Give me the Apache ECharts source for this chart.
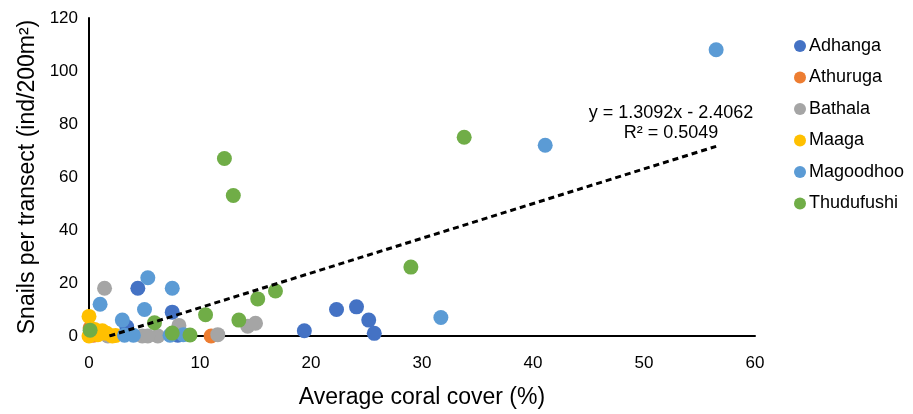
<!DOCTYPE html>
<html><head><meta charset="utf-8">
<script src="https://cdn.jsdelivr.net/npm/echarts@6/dist/echarts.min.js"></script>
<style>html,body{margin:0;padding:0;background:#fff}#c{width:913px;height:414px}</style>
</head><body><div id="c"></div>
<script>
const seriesNames = ['Adhanga','Athuruga','Bathala','Maaga','Magoodhoo','Thudufushi'];
const seriesColors = ['#4472C4','#ED7D31','#A5A5A5','#FFC000','#5B9BD5','#70AD47'];
const adhanga = [[4.4,18],[7.5,9],[3.4,3.5],[8.0,0.3],[19.4,2],[22.3,10],[24.1,11],[25.2,6],[25.7,1]];
const athuruga = [[0.1,3],[0.4,0.3],[11.0,0]];
const bathala = [[1.4,18],[8.1,4],[6.2,0],[11.6,0.5],[14.3,3.7],[15.0,4.8],[1.7,0],[4.8,0],[5.3,0]];
const maaga = [[0,7.4],[0,0],[0.3,1.2],[0.8,0.5],[1.2,2],[1.6,1],[2.1,0],[2.4,0.2],[0.5,2.5]];
const magoodhoo = [[56.5,108],[41.1,72],[31.7,7],[5.3,22],[7.5,18],[1.0,12],[5.0,10],[3.0,6],[3.2,0.3],[4.0,0.3],[7.3,0.3],[8.5,0.5]];
const thudufushi = [[33.8,75],[12.2,67],[13.0,53],[29.0,26],[16.8,17],[15.2,14],[13.5,6],[10.5,8],[5.9,5],[0.1,2.2],[7.5,1.1],[9.1,0.4]];
const allData = [adhanga, athuruga, bathala, maaga, magoodhoo, thudufushi];
const slope = 1.3092, intercept = -2.4062, r2 = 0.5049;
const trendX = [-intercept/slope, 56.5];
const xTicks = [0,10,20,30,40,50,60];
const yTicks = [0,20,40,60,80,100,120];

const FONT = '"Liberation Sans", Arial, sans-serif';
const series = seriesNames.map((n,i)=>({
  name:n, type:'scatter', data:allData[i], symbolSize:15,
  itemStyle:{color:seriesColors[i], opacity:1}, z:2+i
}));
series.push({
  name:'trend', type:'line', data:trendX.map(x=>[x, slope*x+intercept]),
  symbol:'none', lineStyle:{color:'#000', width:3, type:[6,4]}, z:20, silent:true
});
const chart = echarts.init(document.getElementById('c'));
chart.setOption({
  animation:false,
  textStyle:{fontFamily:FONT},
  grid:{left:89, right:158, top:18, bottom:71, containLabel:false},
  legend:{
    data:seriesNames.map(n=>({name:n, icon:'circle'})),
    orient:'vertical', left:789, top:32, itemWidth:12, itemHeight:12, itemGap:13.5,
    textStyle:{fontFamily:FONT, fontSize:18, color:'#000', padding:[0,0,0,-2]}
  },
  xAxis:{
    type:'value', min:0, max:60, interval:10,
    name:'Average coral cover (%)', nameLocation:'middle', nameGap:50,
    nameTextStyle:{fontFamily:FONT, fontSize:23, color:'#000'},
    axisLine:{show:true, lineStyle:{color:'#000', width:2}},
    axisTick:{show:false}, splitLine:{show:false},
    axisLabel:{fontFamily:FONT, fontSize:17, color:'#000', margin:19}
  },
  yAxis:{
    type:'value', min:0, max:120, interval:20,
    name:'Snails per transect (ind/200m²)', nameLocation:'middle', nameGap:50, nameRotate:90,
    nameTextStyle:{fontFamily:FONT, fontSize:23, color:'#000'},
    axisLine:{show:true, lineStyle:{color:'#000', width:2}},
    axisTick:{show:false}, splitLine:{show:false},
    axisLabel:{fontFamily:FONT, fontSize:17, color:'#000', margin:11}
  },
  graphic:[
    {type:'text', position:[671,113], style:{text:'y = '+slope+'x - '+Math.abs(intercept), x:0, y:0, textAlign:'center', textVerticalAlign:'middle', font:'18px '+FONT, fill:'#000'}},
    {type:'text', position:[671,133], style:{text:'R² = '+r2, x:0, y:0, textAlign:'center', textVerticalAlign:'middle', font:'18px '+FONT, fill:'#000'}}
  ],
  series:series
});
</script></body></html>
